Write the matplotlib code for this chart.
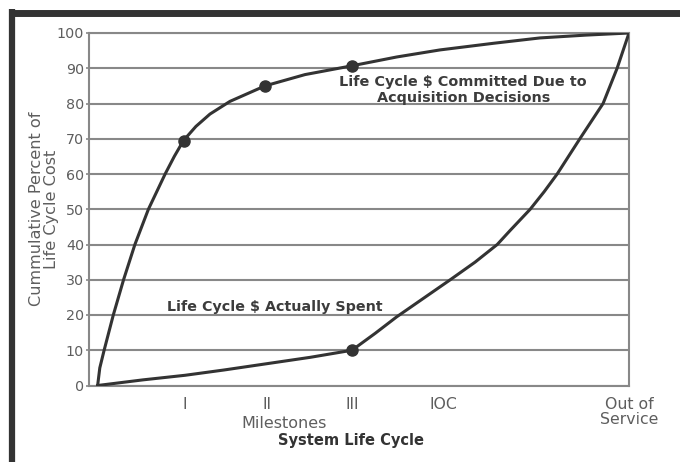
import matplotlib
matplotlib.use('Agg')
import matplotlib.pyplot as plt
from matplotlib.lines import Line2D

plt.rcParams['font.family'] = ['DejaVu Sans']

# Values (x: 0 = left axis, 100 = "Out of Service")
committed_x = [1.6, 2.0, 2.8, 4.5, 6.4, 8.5, 11.0, 14.1, 15.8, 17.5, 19.8, 22.4, 26.1, 32.6, 40.0, 48.7, 57.0, 65.0, 75.0, 83.5, 92.0, 100.0]
committed_y = [0, 5, 10, 20, 30, 40, 50, 60, 65, 69.5, 73.5, 77.0, 80.6, 85, 88.2, 90.7, 93.2, 95.2, 97.1, 98.6, 99.4, 100]
committed_mark_x = [17.5, 32.6, 48.7]
committed_mark_y = [69.5, 85, 90.7]

spent_x = [1.6, 10.0, 17.8, 25.0, 33.0, 41.0, 48.7, 53.0, 57.0, 62.0, 66.9, 71.5, 75.6, 78.0, 81.7, 84.3, 86.7, 90.9, 95.2, 97.8, 100.0]
spent_y = [0, 1.6, 2.9, 4.4, 6.2, 8.0, 10, 14.8, 19.5, 24.8, 30, 35, 40, 44, 50, 55, 60, 70, 80, 90, 100]
spent_mark_x = [48.7]
spent_mark_y = [10]

milestone_pos = [17.8, 33.0, 48.7, 65.7, 100.0]
milestone_labels = ['I', 'II', 'III', 'IOC', 'Out of\nService']
y_ticks = list(range(0, 101, 10))

txt_col = '#5e5e5e'
bold_col = '#3c3c3c'
line_col = '#333333'
grid_col = '#888888'

fig = plt.figure(figsize=(6.8, 4.62), dpi=100)
ax = fig.add_axes([89/680, 1 - 385.5/462, 540/680, 352.5/462])

ax.set_xlim(0, 100)
ax.set_ylim(0, 100)

for yv in y_ticks:
    ax.axhline(yv, color=grid_col, lw=1.5, zorder=1)

ax.plot(committed_x, committed_y, color=line_col, lw=2.2, zorder=3)
ax.plot(spent_x, spent_y, color=line_col, lw=2.2, zorder=3)
ax.plot(committed_mark_x, committed_mark_y, 'o', color=line_col, ms=8, zorder=4)
ax.plot(spent_mark_x, spent_mark_y, 'o', color=line_col, ms=8, zorder=4)

for s in ['left', 'right', 'bottom', 'top']:
    ax.spines[s].set_color(grid_col)
    ax.spines[s].set_linewidth(1.5)

ax.set_yticks(y_ticks)
ax.set_yticklabels([str(v) for v in y_ticks], fontsize=10.3, color=txt_col)
ax.set_xticks(milestone_pos)
ax.set_xticklabels(milestone_labels, fontsize=11.3, color=txt_col, linespacing=1.0)
ax.tick_params(axis='y', length=2.5, width=1.2, color=grid_col, pad=1)
ax.tick_params(axis='x', length=0, pad=8)

ax.set_ylabel('Cummulative Percent of\nLife Cycle Cost', fontsize=11.6, color=txt_col,
              linespacing=1.05, va='center')
ax.yaxis.set_label_coords(-45/540, 0.5)

ax.text(69.3, 83.9, 'Life Cycle $ Committed Due to\nAcquisition Decisions', ha='center', va='center',
        fontsize=10.4, fontweight='bold', color=bold_col, linespacing=1.15, zorder=5)
ax.text(14.4, 22.4, 'Life Cycle $ Actually Spent', ha='left', va='center',
        fontsize=10.3, fontweight='bold', color=bold_col, zorder=5)

fig.text(284/680, 1 - 423/462, 'Milestones', ha='center', va='center', fontsize=11.5, color=txt_col)
fig.text(351/680, 1 - 441/462, 'System Life Cycle', ha='center', va='center', fontsize=10.5,
         fontweight='bold', color='#333333')

# dark frame around the figure (top and left edges)
fig.add_artist(Line2D([9/680, 1], [1 - 12.5/462, 1 - 12.5/462], color='#333333', lw=5,
                      transform=fig.transFigure, solid_capstyle='butt'))
fig.add_artist(Line2D([12/680, 12/680], [0, 1 - 9/462], color='#333333', lw=4.5,
                      transform=fig.transFigure, solid_capstyle='butt'))

fig.savefig('out.png', dpi=100)
